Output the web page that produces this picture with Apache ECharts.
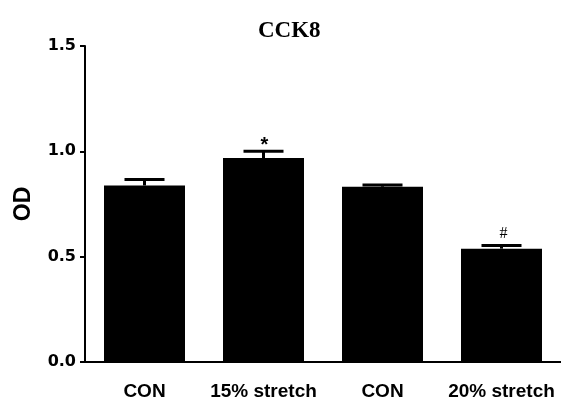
<!DOCTYPE html>
<html>
<head>
<meta charset="utf-8">
<script src="https://cdn.jsdelivr.net/npm/echarts@6/dist/echarts.min.js"></script>
<style>html,body{margin:0;padding:0;background:#fff}#c{width:561px;height:401px}</style>
</head>
<body>
<div id="c"></div>
<script>
var categories = ['CON', '15% stretch', 'CON', '20% stretch'];
var means = [0.838, 0.968, 0.832, 0.538];
var errors = [0.028, 0.032, 0.008, 0.015];
var marks = ['', '*', '', '#'];
var yTicks = ['0.0', '0.5', '1.0', '1.5'];

var chart = echarts.init(document.getElementById('c'));
var errData = means.map(function (m, i) { return [i, m, m + errors[i], marks[i]]; });

chart.setOption({
  animation: false,
  backgroundColor: '#fff',
  title: {
    text: 'CCK8', left: 258, top: 20, padding: 0,
    textStyle: { fontFamily: 'Liberation Serif', fontWeight: 'bold', fontSize: 23, color: '#000' }
  },
  grid: { left: 85, top: 46, width: 476, height: 318, containLabel: false },
  xAxis: {
    type: 'category', data: categories,
    axisLine: { lineStyle: { color: '#000', width: 2 } },
    axisTick: { alignWithLabel: true, length: 5, lineStyle: { color: '#000', width: 2 } },
    axisLabel: { color: '#000', fontFamily: 'Liberation Sans', fontWeight: 'bold', fontSize: 19, margin: 20, interval: 0 }
  },
  yAxis: {
    type: 'value', min: 0, max: 1.5, interval: 0.5,
    name: 'OD', nameLocation: 'middle', nameGap: 50,
    nameTextStyle: { color: '#000', fontFamily: 'Liberation Sans', fontWeight: 'bold', fontSize: 23 },
    axisLine: { show: true, lineStyle: { color: '#000', width: 2 } },
    axisTick: { show: true, length: 5, lineStyle: { color: '#000', width: 2 } },
    splitLine: { show: false },
    axisLabel: {
      color: '#000', fontFamily: 'DejaVu Sans', fontWeight: 'bold', fontSize: 16, margin: 9,
      formatter: function (v) { return yTicks[Math.round(v / 0.5)]; }
    }
  },
  series: [
    {
      type: 'bar', data: means, barWidth: 81,
      itemStyle: { color: '#000' }
    },
    {
      type: 'custom', data: errData, z: 5,
      renderItem: function (params, api) {
        var x = api.value(0);
        var base = api.coord([x, api.value(1)]);
        var top = api.coord([x, api.value(2)]);
        var half = 20;
        var children = [
          { type: 'line', shape: { x1: base[0], y1: base[1], x2: top[0], y2: top[1] }, style: { stroke: '#000', lineWidth: 3 } },
          { type: 'line', shape: { x1: top[0] - half, y1: top[1], x2: top[0] + half, y2: top[1] }, style: { stroke: '#000', lineWidth: 3 } }
        ];
        var mk = api.value(3);
        if (mk) {
          var isStar = mk === '*';
          children.push({
            type: 'text',
            style: {
              text: mk, x: top[0] + (isStar ? 1 : 2), y: top[1] + (isStar ? 4 : -4), align: 'center', verticalAlign: 'bottom',
              fill: '#000',
              font: isStar ? 'bold 20px "Liberation Sans"' : '16px "Liberation Serif"'
            }
          });
        }
        return { type: 'group', children: children };
      }
    }
  ]
});
</script>
</body>
</html>
